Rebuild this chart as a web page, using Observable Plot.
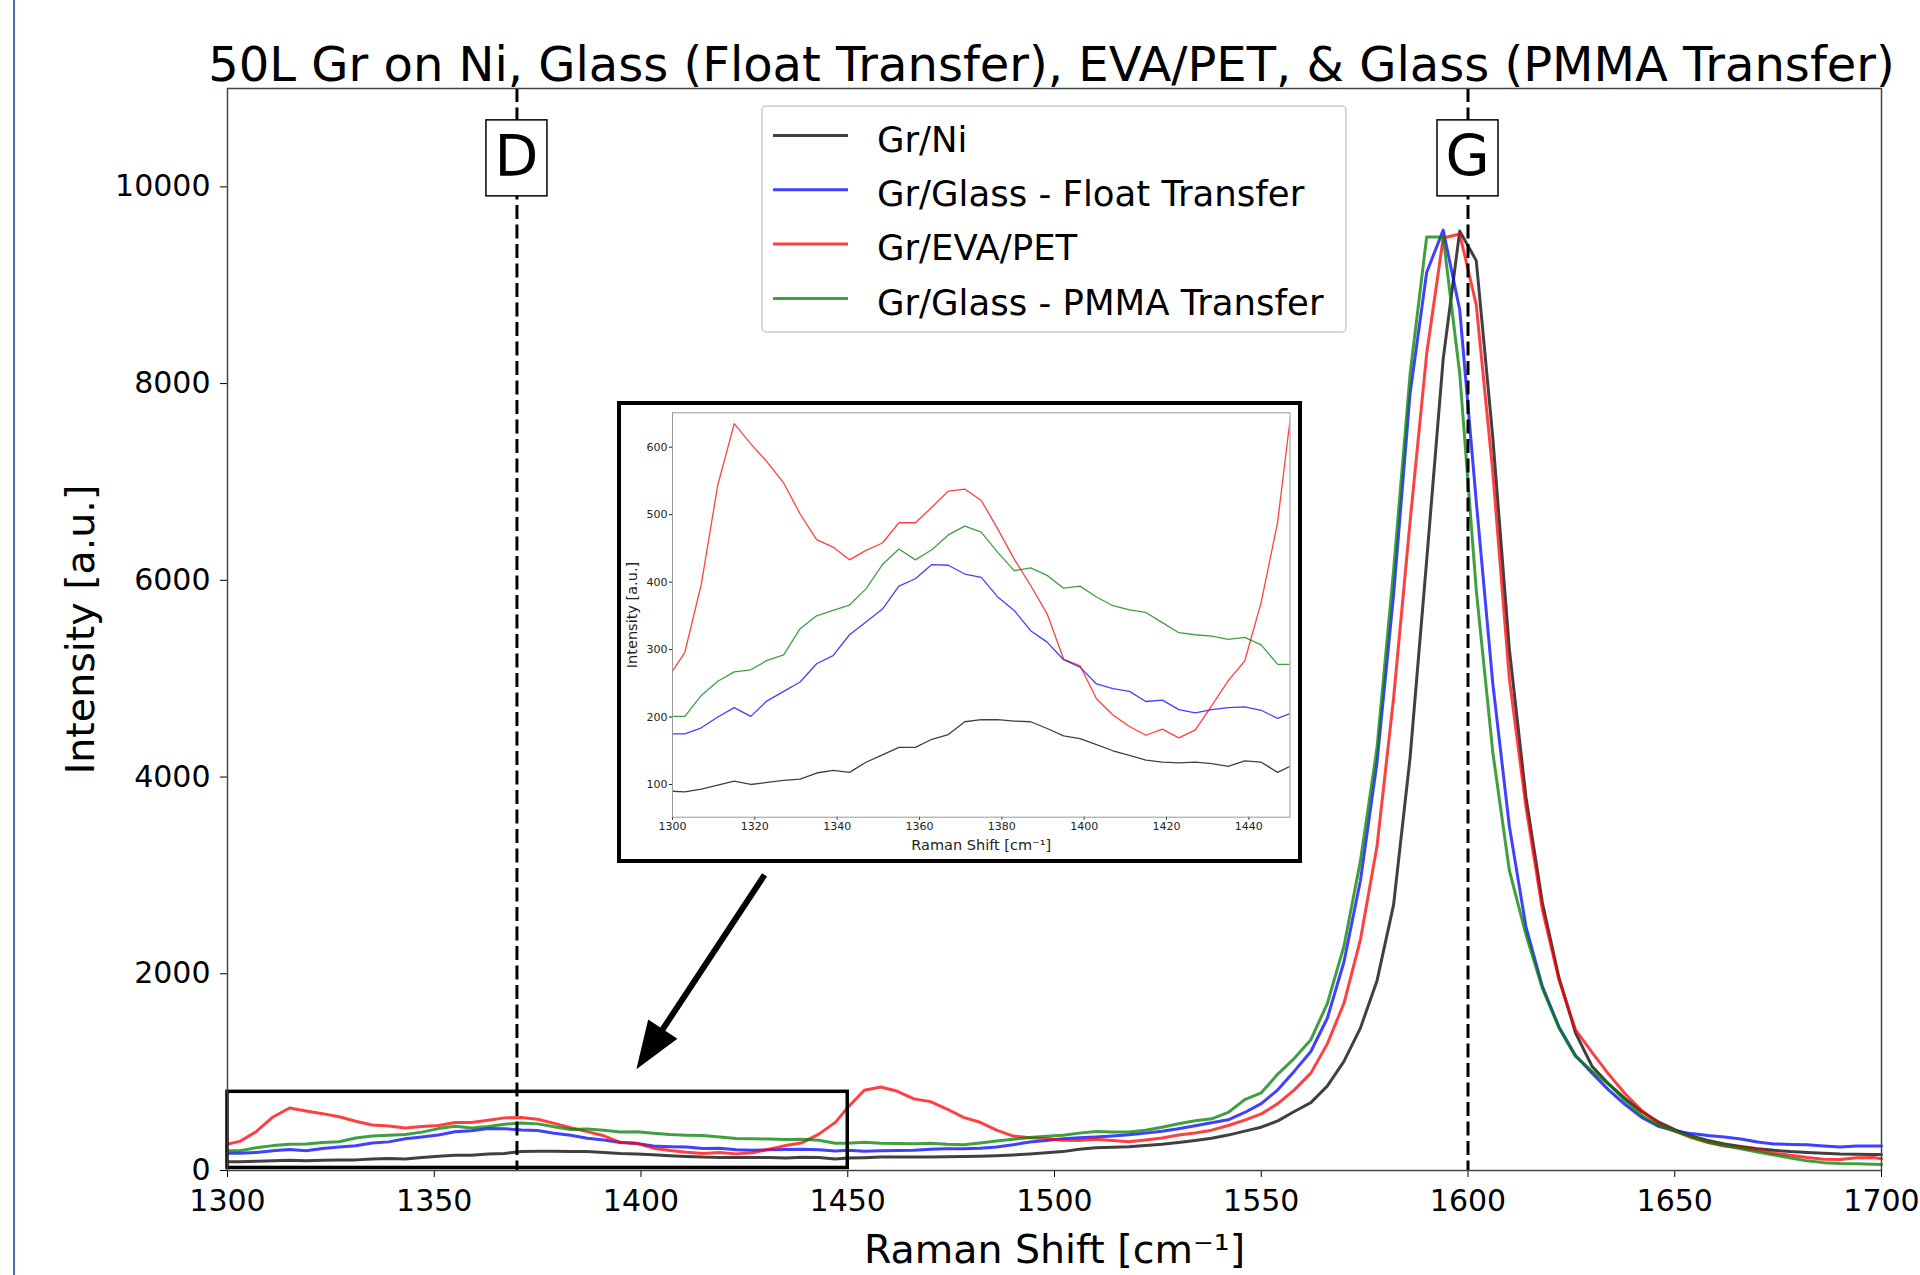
<!DOCTYPE html>
<html>
<head>
<meta charset="utf-8">
<script src="https://cdn.jsdelivr.net/npm/d3@7"></script>
<script src="https://cdn.jsdelivr.net/npm/@observablehq/plot@0.6"></script>
<style>
  html, body { margin: 0; padding: 0; background: #fff; }
  #page { position: relative; width: 1920px; height: 1275px; overflow: hidden; background: #fff; font-family: "DejaVu Sans", sans-serif; }
  #main { position: absolute; left: 0; top: 0; }
  #inset { position: absolute; left: 617px; top: 401px; width: 677px; height: 454px; border: 4px solid #000; background: #fff; }
  #edge { position: absolute; left: 13px; top: 0; width: 2px; height: 1275px; background: #4f6fb3; }
</style>
</head>
<body>
<div id="page"><div id="main"></div><div id="inset"></div><div id="edge"></div></div>
<script>
// ---------- data ----------
const title = "50L Gr on Ni, Glass (Float Transfer), EVA/PET, & Glass (PMMA Transfer)";
const seriesNames = ["Gr/Ni", "Gr/Glass - Float Transfer", "Gr/EVA/PET", "Gr/Glass - PMMA Transfer"];
const seriesColors = ["#000000", "#0000ff", "#ff0000", "#008000"];

const ramanShift = [1300, 1303, 1307, 1311, 1315, 1319, 1323, 1327, 1331, 1335, 1339, 1343, 1347, 1351, 1355, 1359, 1363, 1367, 1371, 1375,
  1379, 1383, 1387, 1391, 1395, 1399, 1403, 1407, 1411, 1415, 1419, 1423, 1427, 1431, 1435, 1439, 1443, 1447, 1450,
  1454, 1458, 1462, 1466, 1470, 1474, 1478, 1482, 1486, 1490, 1494, 1498, 1502, 1506, 1510, 1514, 1518, 1522, 1526, 1530,
  1534, 1538, 1542, 1546, 1550, 1554, 1558, 1562, 1566, 1570, 1574, 1578, 1582, 1586, 1590, 1594, 1598, 1602, 1606, 1610,
  1614, 1618, 1622, 1626, 1630, 1634, 1638, 1642, 1646, 1650, 1654, 1658, 1662, 1666, 1670, 1674, 1678, 1682, 1686, 1690,
  1694, 1698, 1700];

const grNi = [90, 89, 93, 99, 105, 100, 103, 106, 108, 117, 121, 118, 133, 144, 155, 155, 167, 174, 193, 196,
  196, 194, 193, 183, 172, 168, 159, 150, 143, 136, 133, 132, 133, 131, 127, 135, 133, 118, 127,
  130, 136, 136, 136, 137, 140, 142, 145, 150, 158, 168, 180, 192, 215, 232, 236, 242, 255, 268, 285,
  305, 328, 360, 400, 440, 505, 600, 690, 860, 1110, 1450, 1930, 2700, 4200, 6200, 8250, 9550, 9250, 7450, 5300,
  3800, 2720, 1960, 1400, 1060, 880, 730, 600, 495, 415, 350, 305, 270, 245, 222, 205, 192, 183, 175, 168,
  165, 163, 163];

const grGlassFloat = [175, 175, 184, 200, 214, 201, 224, 238, 252, 279, 291, 322, 341, 360, 394, 405, 426, 425, 412, 407,
  378, 358, 328, 311, 285, 274, 249, 242, 238, 223, 225, 211, 206, 211, 214, 215, 210, 198, 205,
  195, 200, 203, 205, 215, 220, 221, 225, 240, 262, 290, 305, 322, 332, 340, 350, 363, 380, 398, 425,
  455, 485, 515, 590, 680, 820, 1010, 1210, 1550, 2120, 2950, 4150, 5850, 7900, 9130, 9560, 8750, 6800, 4950, 3500,
  2480, 1870, 1460, 1170, 990, 820, 670, 540, 450, 405, 375, 355, 340, 320, 290, 270, 265, 262, 250, 238,
  248, 248, 248];

const grEvaPet = [268, 296, 397, 544, 635, 605, 578, 547, 501, 463, 452, 433, 447, 458, 488, 488, 511, 535, 538, 521,
  479, 434, 395, 353, 286, 276, 227, 203, 186, 173, 182, 169, 181, 217, 254, 283, 370, 489, 640,
  815, 849, 805, 728, 700, 625, 540, 490, 410, 350, 333, 325, 308, 305, 318, 305, 292, 310, 330, 360,
  382, 410, 458, 512, 575, 680, 820, 990, 1290, 1700, 2350, 3300, 4800, 6600, 8300, 9480, 9520, 8800, 7100, 5000,
  3700, 2650, 1940, 1430, 1200, 980, 780, 610, 480, 400, 335, 285, 248, 230, 205, 175, 155, 132, 115, 112,
  130, 133, 120];

const grGlassPmma = [201, 201, 232, 253, 267, 270, 284, 292, 331, 350, 358, 366, 390, 426, 449, 433, 448, 470, 483, 474,
  444, 417, 421, 410, 391, 394, 378, 365, 359, 355, 340, 325, 322, 320, 315, 318, 307, 278, 278,
  287, 278, 275, 272, 278, 268, 262, 280, 300, 318, 335, 348, 358, 380, 396, 392, 392, 410, 440, 475,
  505, 525, 590, 720, 790, 980, 1140, 1330, 1700, 2280, 3150, 4300, 6100, 8100, 9490, 9490, 8100, 5900, 4250, 3050,
  2400, 1850, 1450, 1160, 1010, 880, 710, 560, 460, 400, 345, 290, 255, 222, 188, 158, 128, 98, 80, 72,
  69, 63, 61];

const xTicks = [1300, 1350, 1400, 1450, 1500, 1550, 1600, 1650, 1700];
const yTicks = [0, 2000, 4000, 6000, 8000, 10000];
const insetXTicks = [1300, 1320, 1340, 1360, 1380, 1400, 1420, 1440];
const insetYTicks = [100, 200, 300, 400, 500, 600];

const peakPositions = [1370, 1600];
const peakNames = ["D", "G"];
const peakLabelLevel = 10000;
const zoomBox = [{x1: 1300, x2: 1450, y1: 26, y2: 800}];
const arrowFrom = [1430, 3000];
const arrowTo = [1399, 1025];

// ---------- table ----------
const allSeries = [grNi, grGlassFloat, grEvaPet, grGlassPmma];
const rows = [];
allSeries.forEach((vals, s) => {
  ramanShift.forEach((x, i) => rows.push({shift: x, intensity: vals[i], series: seriesNames[s]}));
});

const FONT = '"DejaVu Sans", sans-serif';

// ---------- custom marks (positioned through the plot's scales) ----------
function peakLabelMark(index, scales) {
  const {x, y} = scales;
  const g = d3.create("svg:g");
  peakPositions.forEach((p, i) => {
    const px = x(p), py = y(peakLabelLevel);
    g.append("rect").attr("x", px - 30.5).attr("y", py - 66.5).attr("width", 61).attr("height", 76)
      .attr("fill", "#fff").attr("stroke", "#000").attr("stroke-width", 1.5);
    g.append("text").attr("x", px).attr("y", py - 10.5).attr("text-anchor", "middle")
      .attr("font-size", 57).attr("font-family", FONT).attr("fill", "#000").text(peakNames[i]);
  });
  return g.node();
}

function arrowMark(index, scales) {
  const {x, y} = scales;
  const x1 = x(arrowFrom[0]), y1 = y(arrowFrom[1]), x2 = x(arrowTo[0]), y2 = y(arrowTo[1]);
  const dx = x2 - x1, dy = y2 - y1, L = Math.hypot(dx, dy), ux = dx / L, uy = dy / L;
  const headLen = 48, headHalf = 17.5;
  const bx = x2 - ux * headLen, by = y2 - uy * headLen;
  const g = d3.create("svg:g");
  g.append("line").attr("x1", x1).attr("y1", y1).attr("x2", bx + ux * 3).attr("y2", by + uy * 3)
    .attr("stroke", "#000").attr("stroke-width", 6);
  g.append("path").attr("d", `M${x2},${y2}L${bx - uy * headHalf},${by + ux * headHalf}L${bx + uy * headHalf},${by - ux * headHalf}Z`)
    .attr("fill", "#000");
  return g.node();
}

function legendMark(index, scales, values, dims) {
  const cx = dims.marginLeft + (dims.width - dims.marginLeft - dims.marginRight) / 2;
  const boxW = 584, boxH = 226, top = dims.marginTop + 18, left = cx - boxW / 2;
  const g = d3.create("svg:g").attr("text-anchor", "start");
  g.append("rect").attr("x", left).attr("y", top).attr("width", boxW).attr("height", boxH).attr("rx", 4)
    .attr("fill", "#fff").attr("fill-opacity", 0.8).attr("stroke", "#cccccc").attr("stroke-width", 1.5);
  seriesNames.forEach((name, i) => {
    const yy = top + 29.5 + i * 54.3;
    g.append("line").attr("x1", left + 11).attr("x2", left + 86).attr("y1", yy).attr("y2", yy)
      .attr("stroke", seriesColors[i]).attr("stroke-width", 3).attr("stroke-opacity", 0.75);
    g.append("text").attr("x", left + 115).attr("y", yy + 3.5).attr("dy", "0.36em").attr("text-anchor", "start")
      .attr("font-size", 35.5).attr("font-family", FONT).attr("fill", "#000").text(name);
  });
  return g.node();
}

// ---------- main chart ----------
const main = Plot.plot({
  width: 1920, height: 1275,
  marginLeft: 227, marginRight: 39, marginTop: 88, marginBottom: 105,
  style: {fontFamily: FONT, fontSize: "30px", color: "#000", background: "transparent", overflow: "visible"},
  x: {domain: [1300, 1700], ticks: xTicks, tickSize: 7, tickPadding: 12, tickFormat: d => String(d), label: null},
  y: {domain: [0, 11000], ticks: yTicks, tickSize: 7, tickPadding: 10, tickFormat: d => String(d), label: null},
  color: {domain: seriesNames, range: seriesColors},
  marks: [
    Plot.line(rows, {x: "shift", y: "intensity", z: "series", stroke: "series", strokeWidth: 3, strokeOpacity: 0.75}),
    Plot.ruleX(peakPositions, {stroke: "#000", strokeWidth: 3, strokeDasharray: "14,5.5"}),
    Plot.rect(zoomBox, {x1: "x1", x2: "x2", y1: "y1", y2: "y2", fill: "none", stroke: "#000", strokeWidth: 3.5}),
    arrowMark,
    peakLabelMark,
    legendMark,
    Plot.frame({stroke: "#444", strokeWidth: 1.5}),
    Plot.text([title], {frameAnchor: "top", lineAnchor: "bottom", textAnchor: "middle", dy: -8, dx: -3, fontSize: 48, text: d => d, fill: "#000"}),
    Plot.text(["Raman Shift [cm⁻¹]"], {frameAnchor: "bottom", lineAnchor: "bottom", textAnchor: "middle", dy: 92, fontSize: 39.5, text: d => d, fill: "#000"}),
    Plot.text(["Intensity [a.u.]"], {frameAnchor: "left", lineAnchor: "bottom", textAnchor: "middle", rotate: -90, dx: -134, fontSize: 39.5, text: d => d, fill: "#000"})
  ]
});
document.getElementById("main").appendChild(main);

// ---------- inset ----------
const inset = Plot.plot({
  width: 677, height: 454,
  marginLeft: 51, marginRight: 8.5, marginTop: 7.3, marginBottom: 42.3,
  style: {fontFamily: FONT, fontSize: "11px", color: "#222", background: "#fff"},
  x: {domain: [1300, 1450], ticks: insetXTicks, tickSize: 3, tickPadding: 2, tickFormat: d => String(d), label: null},
  y: {domain: [51.5, 651], ticks: insetYTicks, tickSize: 3, tickPadding: 2, tickFormat: d => String(d), label: null},
  color: {domain: seriesNames, range: seriesColors},
  marks: [
    Plot.line(rows, {x: "shift", y: "intensity", z: "series", stroke: "series", strokeWidth: 1.3, strokeOpacity: 0.75, clip: true}),
    Plot.frame({stroke: "#999", strokeWidth: 1}),
    Plot.text(["Raman Shift [cm⁻¹]"], {frameAnchor: "bottom", lineAnchor: "bottom", textAnchor: "middle", dy: 33, fontSize: 14.5, text: d => d, fill: "#222"}),
    Plot.text(["Intensity [a.u.]"], {frameAnchor: "left", lineAnchor: "bottom", textAnchor: "middle", rotate: -90, dx: -36, fontSize: 14.5, text: d => d, fill: "#222"})
  ]
});
document.getElementById("inset").appendChild(inset);
</script>
</body>
</html>
